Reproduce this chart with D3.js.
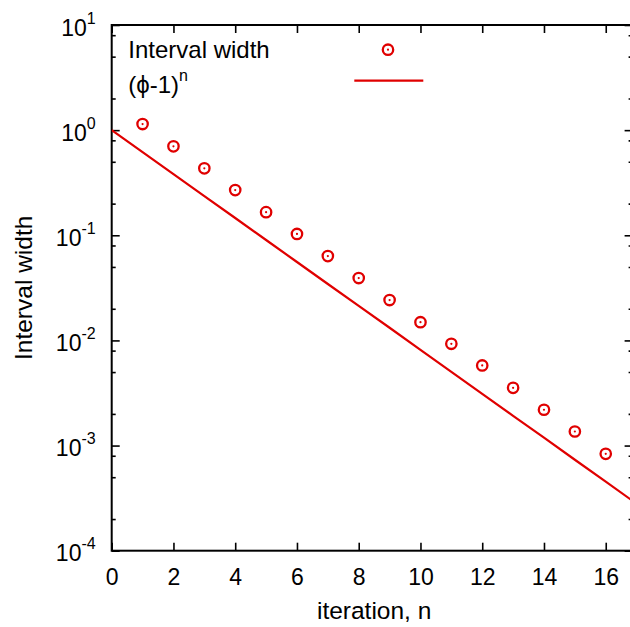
<!DOCTYPE html>
<html>
<head>
<meta charset="utf-8">
<script src="https://cdn.jsdelivr.net/npm/d3@7"></script>
<style>
  body { margin: 0; background: #fff; }
  svg { display: block; font-family: "Liberation Sans", Arial, sans-serif; }
</style>
</head>
<body>
<svg width="630" height="627"></svg>
<script>
// measured interval widths, iterations 1..16
const iterations = [1, 2, 3, 4, 5, 6, 7, 8, 9, 10, 11, 12, 13, 14, 15, 16];
const intervalWidth = [1.143, 0.701, 0.433, 0.269, 0.166, 0.103, 0.0634, 0.0392, 0.0242,
    0.0149, 0.00929, 0.00578, 0.00354, 0.00219, 0.00136, 0.000834];

// reference line (phi-1)^n, n = 0..17
const lineN = [0, 1, 2, 3, 4, 5, 6, 7, 8, 9, 10, 11, 12, 13, 14, 15, 16, 17];
const lineValues = [1, 0.618, 0.382, 0.236, 0.146, 0.0902, 0.0557, 0.0344, 0.0213, 0.0132,
    0.00813, 0.00502, 0.0031, 0.00192, 0.00119, 0.000733, 0.000453, 0.00028];

const xTicks = [0, 2, 4, 6, 8, 10, 12, 14, 16];
const yExponents = [1, 0, -1, -2, -3, -4];
const yMinor = [2, 5, 8];

const red = "#e00000";
const fs = 23, fsSup = 16, fsTitle = 24.5, fsLegend = 24;
const svg = d3.select("svg");
const mLeft = 111.7, mRight = 632.6, mTop = 25, mBottom = 550.7;

const x = d3.scaleLinear().domain([0, 16.87]).range([mLeft, mRight]);
const y = d3.scaleLog().domain([1e-4, 10]).range([mBottom, mTop]);

const majorY = yExponents.map(e => Math.pow(10, e));
const minorY = [];
for (let e = -4; e <= 0; e++) yMinor.forEach(m => minorY.push(m * Math.pow(10, e)));

function styleAxis(g) {
    g.select(".domain").remove();
    g.selectAll("line").attr("stroke", "#000").attr("stroke-width", 1.6);
}

// x axes
const xBot = svg.append("g").attr("transform", `translate(0,${mBottom})`)
    .call(d3.axisBottom(x).tickValues(xTicks).tickSize(-8).tickFormat(d3.format("d")));
styleAxis(xBot);
xBot.attr("font-family", null).attr("font-size", null);
xBot.selectAll("text").attr("y", 34.5).attr("dy", 0)
    .attr("font-size", fs).attr("fill", "#000");

const xTop = svg.append("g").attr("transform", `translate(0,${mTop})`)
    .call(d3.axisTop(x).tickValues(xTicks).tickSize(-8).tickFormat(""));
styleAxis(xTop);

// y axes
const yLeft = svg.append("g").attr("transform", `translate(${mLeft},0)`)
    .call(d3.axisLeft(y).tickValues(majorY).tickSize(-8).tickFormat(() => "10"));
styleAxis(yLeft);
yLeft.attr("font-family", null).attr("font-size", null);
yLeft.selectAll("text")
    .attr("x", -16).attr("dy", 10).attr("font-size", fs).attr("fill", "#000")
    .append("tspan")
    .attr("font-size", fsSup)
    .attr("dy", -12)
    .text(d => Math.round(Math.log10(d)));

svg.append("g").attr("transform", `translate(${mLeft},0)`)
    .call(d3.axisLeft(y).tickValues(minorY).tickSize(-4).tickFormat(""))
    .call(styleAxis);

svg.append("g").attr("transform", `translate(${mRight},0)`)
    .call(d3.axisRight(y).tickValues(majorY).tickSize(-8).tickFormat(""))
    .call(styleAxis);
svg.append("g").attr("transform", `translate(${mRight},0)`)
    .call(d3.axisRight(y).tickValues(minorY).tickSize(-4).tickFormat(""))
    .call(styleAxis);

// border
svg.append("rect")
    .attr("x", mLeft).attr("y", mTop)
    .attr("width", mRight - mLeft).attr("height", mBottom - mTop)
    .attr("fill", "none").attr("stroke", "#000").attr("stroke-width", 2);

// clip
svg.append("clipPath").attr("id", "clip").append("rect")
    .attr("x", mLeft).attr("y", mTop).attr("width", mRight - mLeft).attr("height", mBottom - mTop);

const plot = svg.append("g").attr("clip-path", "url(#clip)");

plot.append("path")
    .datum(lineN.map((n, i) => [n, lineValues[i]]))
    .attr("fill", "none").attr("stroke", red).attr("stroke-width", 2.2)
    .attr("d", d3.line().x(d => x(d[0])).y(d => y(d[1])));

const pts = plot.selectAll("g.pt")
    .data(iterations.map((n, i) => [n, intervalWidth[i]]))
    .join("g").attr("class", "pt")
    .attr("transform", d => `translate(${x(d[0])},${y(d[1])})`);
pts.append("circle").attr("r", 5.2).attr("fill", "none").attr("stroke", red).attr("stroke-width", 2.3);
pts.append("circle").attr("r", 1.1).attr("fill", red);

// legend
const legend = svg.append("g");
legend.append("text").attr("x", 128.3).attr("y", 58.3).attr("font-size", fsLegend).text("Interval width");
const l2 = legend.append("text").attr("x", 128.3).attr("y", 93.3).attr("font-size", fsLegend);
l2.append("tspan").text("(ϕ-1)");
l2.append("tspan").attr("font-size", fsSup).attr("dy", -12).text("n");

const sym = legend.append("g").attr("transform", "translate(388,49.7)");
sym.append("circle").attr("r", 5.2).attr("fill", "none").attr("stroke", red).attr("stroke-width", 2.3);
sym.append("circle").attr("r", 1.1).attr("fill", red);
legend.append("line").attr("x1", 354.3).attr("x2", 423.3).attr("y1", 80.7).attr("y2", 80.7)
    .attr("stroke", red).attr("stroke-width", 2.2);

// axis titles
svg.append("text").attr("x", (mLeft + 636.6) / 2).attr("y", 619)
    .attr("text-anchor", "middle").attr("font-size", fsTitle).text("iteration, n");
svg.append("text")
    .attr("transform", `translate(31.5,${(mTop + mBottom) / 2}) rotate(-90)`)
    .attr("text-anchor", "middle").attr("font-size", fsTitle).text("Interval width");
</script>
</body>
</html>
